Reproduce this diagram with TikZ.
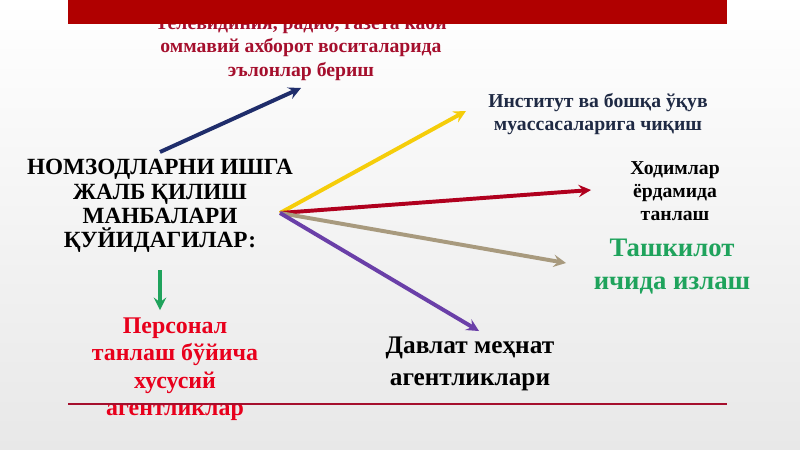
\documentclass[tikz,border=0pt]{standalone}
\usepackage{fontspec}
\setmainfont{Liberation Serif}
\definecolor{barred}{HTML}{B00000}
\definecolor{darkcrimson}{HTML}{A50F2D}
\definecolor{inkblue}{HTML}{1F2A44}
\definecolor{navyarrow}{HTML}{1F2D6B}
\definecolor{goldarrow}{HTML}{F5CD0A}
\definecolor{redarrow}{HTML}{B0001E}
\definecolor{tanarrow}{HTML}{A89A7E}
\definecolor{purplearrow}{HTML}{6A3FA8}
\definecolor{greenink}{HTML}{1FA35C}
\definecolor{brightred}{HTML}{E8001C}
\tikzstyle{px}=[x=0.025cm,y=-0.025cm]
\tikzstyle{label}=[align=center,inner sep=0pt,font=\bfseries]
\tikzstyle{ray}=[-stealth,line width=2.8pt]

\begin{document}
\begin{tikzpicture}[px]
	\useasboundingbox (0,0) rectangle (800,449);
	\shade[top color=white,bottom color=gray!18] (0,0) rectangle (800,449);
%
	\node[label,text=darkcrimson,font=\bfseries\fontsize{14}{16.5}\selectfont] (media) at (301,48)
		{Телевидиния, радио, газета каби\\оммавий ахборот воситаларида\\эълонлар бериш};
	\fill[barred] (68,0) rectangle (727,24);
%
	\node[label,font=\bfseries\fontsize{16.5}{17.2}\selectfont] (title) at (160,206)
		{НОМЗОДЛАРНИ ИШГА\\ЖАЛБ ҚИЛИШ\\МАНБАЛАРИ\\ҚУЙИДАГИЛАР:};
	\node[label,text=inkblue,font=\bfseries\fontsize{14}{16.5}\selectfont] (inst) at (598,114)
		{Институт ва бошқа ўқув\\муассасаларига чиқиш};
	\node[label,font=\bfseries\fontsize{14}{16.5}\selectfont] (staff) at (675,191)
		{Ходимлар\\ёрдамида\\танлаш};
	\node[label,text=greenink,font=\bfseries\fontsize{19}{23.5}\selectfont] (inside) at (672,267)
		{Ташкилот\\ичида излаш};
	\node[label,text=brightred,font=\bfseries\fontsize{17}{19.5}\selectfont] (private) at (175,369)
		{Персонал\\танлаш бўйича\\хусусий\\агентликлар};
	\node[label,font=\bfseries\fontsize{18}{23}\selectfont] (state) at (470,364)
		{Давлат меҳнат\\агентликлари};
%
	\coordinate (hub) at (280,213);
	\coordinate (navystart) at (160,152);
	\coordinate (navyend) at (301,88);
	\coordinate (instend) at (466,111);
	\coordinate (staffend) at (591,190);
	\coordinate (insideend) at (566,263);
	\coordinate (stateend) at (479,331);
	\coordinate (downstart) at (160,270);
	\coordinate (downend) at (160,310);
%
	\draw[ray,navyarrow] (navystart) -- (navyend);
	\draw[ray,goldarrow] (hub) -- (instend);
	\draw[ray,redarrow] (hub) -- (staffend);
	\draw[ray,tanarrow] (hub) -- (insideend);
	\draw[ray,purplearrow] (hub) -- (stateend);
	\draw[ray,greenink] (downstart) -- (downend);
%
	\draw[darkcrimson,line width=1pt] (68,404) -- (727,404);
\end{tikzpicture}
\end{document}
